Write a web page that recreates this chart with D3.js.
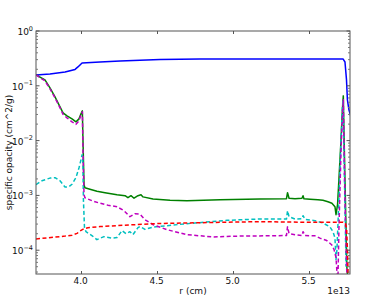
<!DOCTYPE html>
<html><head><meta charset="utf-8">
<script src="https://cdn.jsdelivr.net/npm/d3@7"></script>
<style>body{margin:0;background:#fff}svg{display:block}text{font-family:"DejaVu Sans",sans-serif;fill:#111}</style>
</head><body><svg id="c" width="391" height="305"></svg>
<script>
// r in units of 1e13 cm, opacity in cm^2/g
const blueR = [3.706,3.798,3.897,3.963,3.982,4.009,4.127,4.259,4.522,4.785,5.726,5.739,5.749,5.755,5.765,5.778];
const blueK = [0.158,0.165,0.179,0.199,0.221,0.261,0.272,0.284,0.303,0.309,0.309,0.272,0.128,0.0554,0.0364,0.0271];

const greenR = [3.706,3.765,3.798,3.831,3.864,3.884,3.910,3.943,3.969,3.989,4.002,4.011,4.015,4.022,4.028,4.061,4.107,4.160,4.239,4.292,4.311,4.331,4.351,4.377,4.397,4.410,4.476,4.588,4.699,4.917,5.180,5.354,5.361,5.371,5.410,5.456,5.463,5.469,5.509,5.561,5.594,5.627,5.653,5.673,5.680,5.690,5.699,5.713,5.722,5.728,5.732,5.739,5.746,5.752,5.759];
const greenK = [0.158,0.128,0.0916,0.0628,0.0413,0.0321,0.0283,0.0249,0.0220,0.0249,0.0308,0.0349,0.01035,0.00157,0.00138,0.00130,0.00119,0.00112,0.00103,0.000988,0.000908,0.000988,0.000889,0.000988,0.00103,0.00094,0.000859,0.000818,0.000800,0.000835,0.000859,0.000871,0.00112,0.000889,0.000871,0.000889,0.000988,0.000871,0.000853,0.000835,0.000818,0.000768,0.000721,0.000622,0.000445,0.000677,0.00193,0.0104,0.0364,0.0655,0.0157,0.00193,0.000237,0.0000443,0.00003];

const magR = [3.706,3.765,3.798,3.831,3.864,3.884,3.910,3.943,3.969,3.989,4.002,4.011,4.015,4.022,4.028,4.074,4.127,4.180,4.239,4.285,4.324,4.357,4.390,4.423,4.476,4.568,4.699,4.871,5.048,5.354,5.361,5.371,5.410,5.456,5.463,5.476,5.542,5.574,5.619,5.651,5.667,5.680,5.686,5.692,5.699,5.713,5.722,5.728,5.732,5.739,5.746,5.752];
const magK = [0.158,0.123,0.0878,0.0602,0.0396,0.0301,0.0260,0.0220,0.0198,0.0230,0.0295,0.0335,0.0068,0.00103,0.000908,0.000800,0.000721,0.000662,0.000622,0.000526,0.000409,0.000465,0.000455,0.000361,0.000292,0.000237,0.000192,0.000175,0.000181,0.000185,0.000269,0.000201,0.000192,0.000185,0.000218,0.000185,0.000183,0.000166,0.000150,0.000126,0.000103,0.0000733,0.0000407,0.000024,0.000237,0.0068,0.0296,0.0554,0.0104,0.0008,0.00012,0.00003];

const cyanR = [3.706,3.745,3.798,3.831,3.864,3.897,3.923,3.943,3.969,3.989,4.002,4.009,4.014,4.018,4.025,4.035,4.074,4.107,4.153,4.206,4.239,4.272,4.298,4.324,4.344,4.377,4.390,4.423,4.476,4.699,4.963,5.180,5.354,5.361,5.371,5.410,5.456,5.463,5.476,5.542,5.594,5.640,5.660,5.673,5.680,5.686,5.699,5.713,5.722,5.726,5.732,5.739,5.746];
const cyanK = [0.00157,0.00185,0.00207,0.00211,0.00185,0.00142,0.00144,0.00160,0.00211,0.00320,0.00447,0.00551,0.00447,0.000835,0.000258,0.000218,0.000185,0.000156,0.000177,0.000166,0.000170,0.000228,0.000200,0.000218,0.000192,0.000258,0.000270,0.000240,0.000264,0.000305,0.000351,0.000372,0.000370,0.000526,0.000409,0.000370,0.000375,0.000427,0.000365,0.000346,0.000314,0.000266,0.000218,0.000168,0.0000674,0.000101,0.000835,0.0104,0.0396,0.0554,0.007,0.0006,0.00005];

const redR = [3.706,3.818,3.897,3.943,3.976,3.995,4.022,4.048,4.127,4.239,4.476,4.785,5.180,5.443,5.726,5.742,5.750,5.755,5.761];
const redK = [0.000161,0.000172,0.000181,0.000188,0.000203,0.000223,0.000247,0.000258,0.000270,0.000281,0.000305,0.000318,0.000332,0.000325,0.000325,0.000305,0.000247,0.000103,0.000029];

const xTicks = [4.0, 4.5, 5.0, 5.5];
const xTickLabels = ["4.0", "4.5", "5.0", "5.5"];
const yTickExps = [0, -1, -2, -3, -4];

const L = 36, R = 350, T = 31, B = 274;
const svg = d3.select("#c");
const x = d3.scaleLinear().domain([3.706, 5.772]).range([L, R]);
const y = d3.scaleLog().domain([Math.pow(10, -4.434), 1]).range([B, T]);

svg.append("defs").append("clipPath").attr("id", "clip")
  .append("rect").attr("x", L).attr("y", T).attr("width", R - L).attr("height", B - T);

const line = d3.line().x(d => x(d[0])).y(d => y(d[1]));
const g = svg.append("g").attr("clip-path", "url(#clip)");
function series(rs, ks, color, dash) {
  const p = g.append("path").datum(rs.map((r, i) => [r, ks[i]]))
    .attr("d", line).attr("fill", "none").attr("stroke", color)
    .attr("stroke-width", 1.5).attr("stroke-linejoin", "round");
  if (dash) p.attr("stroke-dasharray", dash);
}
series(blueR, blueK, "#0000ff");
series(greenR, greenK, "#008000");
series(cyanR, cyanK, "#00bfbf", "4,2.5");
series(magR, magK, "#bf00bf", "4,2.5");
series(redR, redK, "#ff0000", "4,2.5");

// frame
const ax = svg.append("g");
ax.append("rect").attr("x", L).attr("y", T).attr("width", R - L).attr("height", B - T)
  .attr("fill", "none").attr("stroke", "#555").attr("stroke-width", 1);

// x ticks
xTicks.forEach((t, i) => {
  const px = Math.round(x(t)) + 0.5;
  ax.append("line").attr("x1", px).attr("x2", px).attr("y1", B).attr("y2", B - 3).attr("stroke", "#555");
  ax.append("line").attr("x1", px).attr("x2", px).attr("y1", T).attr("y2", T + 3).attr("stroke", "#555");
  ax.append("text").attr("x", x(t)).attr("y", B + 9.5).attr("text-anchor", "middle")
    .attr("font-size", 9).text(xTickLabels[i]);
});

// y ticks (major + minor)
yTickExps.forEach(e => {
  const py = y(Math.pow(10, e));
  ax.append("line").attr("x1", L).attr("x2", L + 3.5).attr("y1", py).attr("y2", py).attr("stroke", "#555");
  ax.append("line").attr("x1", R).attr("x2", R - 3.5).attr("y1", py).attr("y2", py).attr("stroke", "#555");
  const t = ax.append("text").attr("x", 33).attr("y", py + 4).attr("text-anchor", "end").attr("font-size", 9);
  t.append("tspan").text("10");
  t.append("tspan").attr("dy", -4.5).attr("font-size", 6.5).text(String(e).replace("-", "\u2212"));
});
for (let e = -5; e < 0; e++) {
  for (let m = 2; m <= 9; m++) {
    const v = m * Math.pow(10, e);
    if (v < y.domain()[0] || v > 1) continue;
    const py = y(v);
    ax.append("line").attr("x1", L).attr("x2", L + 2).attr("y1", py).attr("y2", py).attr("stroke", "#777");
    ax.append("line").attr("x1", R).attr("x2", R - 2).attr("y1", py).attr("y2", py).attr("stroke", "#777");
  }
}

// labels
svg.append("text").attr("x", (L + R) / 2).attr("y", 293.5).attr("text-anchor", "middle")
  .attr("font-size", 9).text("r (cm)");
svg.append("text").attr("x", R).attr("y", 293.5).attr("text-anchor", "end")
  .attr("font-size", 9).text("1e13");
svg.append("text").attr("transform", `translate(12,${(T + B) / 2}) rotate(-90)`)
  .attr("text-anchor", "middle").attr("font-size", 9).text("specific opacity (cm^2/g)");
</script></body></html>
